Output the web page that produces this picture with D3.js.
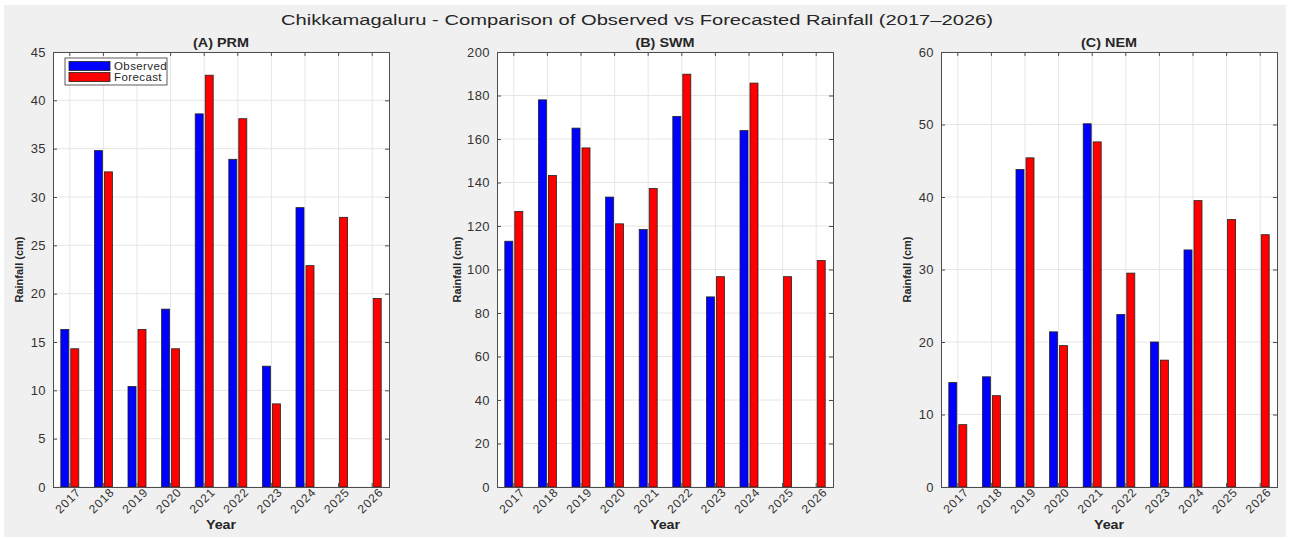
<!DOCTYPE html>
<html><head><meta charset="utf-8">
<script src="https://cdn.jsdelivr.net/npm/d3@7"></script>
<style>
body{margin:0;background:#fff;}
svg{display:block;font-family:"Liberation Sans",Arial,Helvetica,sans-serif;}
</style></head>
<body><svg id="c" width="1290" height="538"></svg>
<script>
const years = ["2017","2018","2019","2020","2021","2022","2023","2024","2025","2026"];
const seriesNames = ["Observed","Forecast"];
const prmObserved = [16.3,34.8,10.4,18.4,38.6,33.9,12.5,28.9,null,null];
const prmForecast = [14.3,32.6,16.3,14.3,42.6,38.1,8.6,22.9,27.9,19.5];
const swmObserved = [113.0,178.0,165.0,133.3,118.4,170.4,87.4,163.9,null,null];
const swmForecast = [126.7,143.2,155.9,121.0,137.2,189.8,96.7,185.7,96.7,104.1];
const nemObserved = [14.4,15.2,43.8,21.4,50.1,23.8,20.0,32.7,null,null];
const nemForecast = [8.6,12.6,45.4,19.5,47.6,29.5,17.5,39.5,36.9,34.8];
const prmTicks = [0,5,10,15,20,25,30,35,40,45];
const swmTicks = [0,20,40,60,80,100,120,140,160,180,200];
const nemTicks = [0,10,20,30,40,50,60];
const panelTitles = ["(A) PRM","(B) SWM","(C) NEM"];
const mainTitle = "Chikkamagaluru - Comparison of Observed vs Forecasted Rainfall (2017\u20132026)";

const colors = {Observed:"#0000ff", Forecast:"#ff0000"};
const svg = d3.select("#c");
svg.append("rect").attr("x",4).attr("y",5).attr("width",1282).attr("height",532).attr("fill","#f0f0f0");

svg.append("text").attr("transform","translate(637,25) scale(1.3,1)").attr("text-anchor","middle")
  .attr("font-size",15.5).attr("fill","#262626").text(mainTitle);

const panels = [
  {title:panelTitles[0], obs:prmObserved, fc:prmForecast, ticks:prmTicks, left:53, ylabOff:34, legend:true},
  {title:panelTitles[1], obs:swmObserved, fc:swmForecast, ticks:swmTicks, left:497, ylabOff:40},
  {title:panelTitles[2], obs:nemObserved, fc:nemForecast, ticks:nemTicks, left:941, ylabOff:34}
];
const PW = 336, PTOP = 52, PBOT = 487;

panels.forEach(p => {
  const g = svg.append("g");
  const x = d3.scaleBand().domain(years).range([p.left, p.left+PW]).padding(0);
  const sub = d3.scaleBand().domain(seriesNames).range([-9,9]).paddingInner(0.2);
  const y = d3.scaleLinear().domain([p.ticks[0], p.ticks[p.ticks.length-1]]).range([PBOT, PTOP]);
  g.append("rect").attr("x",p.left).attr("y",PTOP).attr("width",PW).attr("height",PBOT-PTOP).attr("fill","#fff");
  g.selectAll(".gy").data(p.ticks).enter().append("line")
    .attr("x1",p.left).attr("x2",p.left+PW).attr("y1",d=>y(d)).attr("y2",d=>y(d))
    .attr("stroke","#e6e6e6").attr("stroke-width",1);
  g.selectAll(".gx").data(years).enter().append("line")
    .attr("x1",d=>x(d)+x.bandwidth()/2).attr("x2",d=>x(d)+x.bandwidth()/2).attr("y1",PTOP).attr("y2",PBOT)
    .attr("stroke","#e6e6e6").attr("stroke-width",1);
  const rows = years.map((yr,i)=>({yr, Observed:p.obs[i], Forecast:p.fc[i]}));
  seriesNames.forEach(s => {
    g.selectAll(".b"+s).data(rows.filter(r=>r[s]!=null)).enter().append("rect")
      .attr("x",d=>x(d.yr)+x.bandwidth()/2+sub(s))
      .attr("width",sub.bandwidth())
      .attr("y",d=>y(d[s]))
      .attr("height",d=>y(0)-y(d[s]))
      .attr("fill",colors[s]).attr("stroke","#222").attr("stroke-width",0.8);
  });
  const ax = g.append("g").attr("transform",`translate(0,${PBOT})`)
    .call(d3.axisBottom(x).tickSize(-4).tickPadding(6));
  const axT = g.append("g").attr("transform",`translate(0,${PTOP})`)
    .call(d3.axisTop(x).tickSize(-4).tickFormat(""));
  const ay = g.append("g").attr("transform",`translate(${p.left},0)`)
    .call(d3.axisLeft(y).tickValues(p.ticks).tickSize(-4).tickPadding(7).tickFormat(d3.format("d")));
  const ayR = g.append("g").attr("transform",`translate(${p.left+PW},0)`)
    .call(d3.axisRight(y).tickValues(p.ticks).tickSize(-4).tickFormat(""));
  [ax,axT,ay,ayR].forEach(a=>{
    a.select(".domain").attr("stroke","#4d4d4d");
    a.selectAll(".tick line").attr("stroke","#4d4d4d");
  });
  ay.selectAll("text").attr("font-size",13).attr("letter-spacing",0.4).attr("fill","#333").attr("font-family","Liberation Sans, Arial");
  ax.selectAll("text").attr("font-size",12).attr("letter-spacing",0.9).attr("fill","#333").attr("font-family","Liberation Sans, Arial")
    .attr("text-anchor","end").attr("dy","0.3em")
    .attr("transform","translate(5,-1) rotate(-45)");
  g.append("text").attr("transform",`translate(${p.left+PW/2},47) scale(1.2,1)`).attr("text-anchor","middle")
    .attr("font-size",12).attr("font-weight","bold").attr("fill","#262626").text(p.title);
  g.append("text").attr("transform",`translate(${p.left+PW/2},529) scale(1.1,1)`).attr("text-anchor","middle")
    .attr("font-size",13).attr("font-weight","bold").attr("fill","#262626").text("Year");
  g.append("text").attr("transform",`translate(${p.left-p.ylabOff+4},${(PTOP+PBOT)/2}) rotate(-90)`)
    .attr("text-anchor","middle").attr("font-size",11).attr("font-weight","bold").attr("fill","#262626")
    .text("Rainfall (cm)");
  if (p.legend) {
    const lg = g.append("g").attr("transform",`translate(65,58)`);
    lg.append("rect").attr("width",102).attr("height",27).attr("fill","#fff").attr("stroke","#333").attr("stroke-width",0.8);
    seriesNames.forEach((s,i)=>{
      lg.append("rect").attr("x",4).attr("y",3.5+i*11).attr("width",41).attr("height",9)
        .attr("fill",colors[s]).attr("stroke","#222").attr("stroke-width",0.8);
      lg.append("text").attr("x",49).attr("y",8+i*11).attr("dy","0.35em")
        .attr("font-size",11.5).attr("letter-spacing",0.4).attr("fill","#262626").text(s);
    });
  }
});
</script></body></html>
